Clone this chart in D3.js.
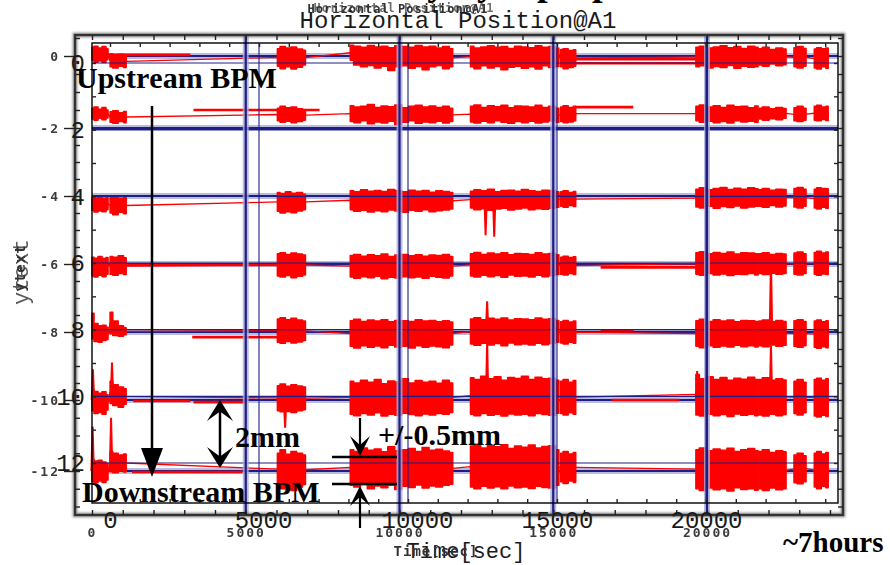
<!DOCTYPE html>
<html>
<head>
<meta charset="utf-8">
<script src="https://cdn.jsdelivr.net/npm/d3@7"></script>
<style>
  body { margin: 0; background: #fff; }
  svg text { font-kerning: none; }
</style>
</head>
<body>
<svg id="chart" width="890" height="565"></svg>
<script>
// ---------- data ----------
// display offset (mm) of each BPM trace, upstream first
const bpmOffsets = [0, -2, -4, -6, -8, -10, -12];
// tick values and labels of the two overlaid axes
const oldTicksY = [0, -2, -4, -6, -8, -10, -12];
const oldTickLabelsY = ["0", "-2", "-4", "-6", "-8", "-10", "-12"];
const newTicksY = [0, 2, 4, 6, 8, 10, 12];
const timeTicks = [0, 5000, 10000, 15000, 20000];

// sample times (sec) of the ten recorded runs, shared by every BPM
const sampleTimes = [
  [0, 130, 260, 390, 520],
  [590, 760, 940, 1110],
  [6030, 6200, 6380, 6560, 6750, 6940],
  [8400, 8620, 8840, 9070, 9290, 9510, 9730, 9960, 10180, 10400, 10620, 10850, 11070, 11290, 11510, 11730],
  [12310, 12530, 12750, 12970, 13190, 13410, 13630, 13850, 14080, 14300, 14520, 14740, 14960, 15180],
  [15240, 15400, 15570, 15730],
  [19640, 19860, 20090, 20310, 20540, 20760, 20990, 21210, 21440, 21660],
  [21690, 21910, 22130, 22350, 22570],
  [22830, 23030, 23220],
  [23490, 23640, 23790, 23940]
];

// upper envelope of the position jitter (mm, relative to the trace offset)
const hiDev = [
  [[.24,.27,.22,.26,.2],[.06,.03,.05,.02],[.2,.26,.22,.25,.19,.16],
   [.3,.27,.24,.29,.25,.27,.23,.28,.26,.24,.29,.25,.27,.22,.26,.2],
   [.27,.22,.25,.28,.24,.26,.21,.27,.25,.23,.28,.24,.26,.22],[.18,.2,.15,.17],
   [.24,.27,.22,.25,.28,.23,.26,.21,.27,.24],[.2,.24,.18,.22,.19],[.23,.26,.21],[.19,.23,.2,.22]],
  [[.55,.58,.52,.57,.5],[.45,.48,.42,.46],[.55,.6,.56,.58,.53,.5],
   [.62,.58,.6,.65,.57,.61,.59,.64,.56,.6,.63,.58,.61,.57,.6,.55],
   [.6,.64,.57,.62,.59,.63,.56,.61,.6,.58,.63,.57,.6,.55],[.58,.62,.57,.6],
   [.6,.64,.58,.62,.57,.63,.59,.6,.56,.61],[.55,.58,.53,.57,.54],[.56,.6,.55],[.6,.63,.58,.6]],
  [[-.04,-.06,-.03,-.07,-.05],[-.05,-.03,-.07,-.04],[.1,.07,.12,.08,.1,.05],
   [.15,.12,.18,.14,.16,.13,.19,.15,.12,.17,.14,.16,.11,.15,.13,.1],
   [.14,.18,.15,.2,.12,.16,.17,.14,.19,.15,.13,.17,.16,.12],[.12,.15,.1,.13],
   [.2,.24,.18,.22,.25,.19,.23,.2,.24,.21],[.18,.22,.17,.2,.19],[.22,.25,.2],[.2,.24,.22,.21]],
  [[.2,.17,.22,.16,.19],[.22,.2,.24,.18],[.3,.33,.28,.32,.29,.26],
   [.25,.28,.23,.27,.24,.29,.22,.26,.28,.24,.27,.23,.26,.25,.28,.22],
   [.3,.34,.28,.32,.29,.33,.27,.31,.3,.28,.33,.29,.31,.27],[.2,.23,.19,.21],
   [.33,.36,.3,.34,.31,.35,.29,.33,.32,.3],[.3,.33,.28,.31,.29],[.32,.35,.3],[.34,.37,.32,.35]],
  [[.55,.25,.18,.2,.14],[.58,.32,.18,.12],[.38,.42,.36,.4,.35,.32],
   [.33,.37,.31,.35,.32,.36,.3,.34,.33,.31,.36,.32,.34,.3,.33,.29],
   [.38,.42,.36,.4,.37,.41,.35,.39,.38,.36,.41,.37,.39,.34],[.3,.34,.29,.32],
   [.33,.37,.31,.36,.32,.35,.3,.34,.33,.31],[.32,.35,.3,.34,.31],[.33,.36,.31],[.32,.35,.3,.33]],
  [[.3,.25,.2,.24,.15],[.55,.45,.38,.33],[.42,.47,.4,.45,.41,.38],
   [.55,.5,.58,.52,.6,.48,.56,.53,.62,.5,.57,.52,.55,.49,.58,.5],
   [.65,.6,.7,.62,.68,.58,.66,.63,.7,.6,.67,.62,.64,.58],[.55,.6,.52,.57],
   [.75,.62,.68,.6,.66,.58,.64,.61,.67,.6],[.6,.65,.58,.62,.59],[.55,.6,.52],[.6,.64,.58,.62]],
  [[.32,.28,.3,.25,.22],[.55,.5,.45,.48],[.5,.6,.47,.55,.5,.45],
   [.6,.55,.65,.58,.62,.54,.68,.57,.6,.63,.55,.66,.58,.61,.56,.52],
   [.7,.75,.65,.72,.68,.74,.63,.7,.67,.73,.65,.69,.71,.6],[.5,.55,.48,.52],
   [.6,.65,.57,.62,.58,.64,.55,.6,.63,.57],[.55,.6,.52,.57,.54],[.45,.5,.43],[.5,.55,.48,.52]]
];

// lower envelope of the position jitter (mm, relative to the trace offset)
const loDev = [
  [[-.12,-.17,-.14,-.18,-.1],[-.3,-.33,-.28,-.32],[-.28,-.35,-.3,-.36,-.31,-.25],
   [-.12,-.25,-.3,-.26,-.33,-.28,-.4,-.3,-.27,-.34,-.29,-.38,-.3,-.26,-.35,-.3],
   [-.3,-.35,-.27,-.33,-.29,-.38,-.31,-.28,-.34,-.3,-.36,-.27,-.32,-.29],[-.3,-.35,-.32,-.28],
   [-.3,-.27,-.33,-.29,-.32,-.26,-.34,-.28,-.31,-.3],[-.25,-.28,-.22,-.27,-.24],[-.3,-.33,-.28],[-.33,-.36,-.3,-.34]],
  [[.25,.22,.27,.23,.28],[.16,.13,.18,.15],[.2,.16,.19,.15,.18,.22],
   [.18,.15,.2,.12,.17,.14,.19,.1,.16,.2,.13,.17,.15,.19,.14,.18],
   [.17,.14,.19,.15,.2,.16,.13,.18,.15,.19,.14,.17,.2,.16],[.18,.15,.17,.2],
   [.2,.16,.19,.15,.18,.14,.2,.17,.19,.16],[.25,.22,.26,.23,.27],[.2,.18,.22],[.22,.2,.24,.21]],
  [[-.42,-.47,-.44,-.46,-.4],[-.5,-.55,-.48,-.52],[-.45,-.5,-.46,-.49,-.44,-.4],
   [-.4,-.45,-.42,-.47,-.43,-.46,-.41,-.44,-.48,-.42,-.45,-.4,-.46,-.43,-.41,-.38],
   [-.35,-.4,-.37,-.42,-.38,-.36,-.41,-.38,-.35,-.4,-.37,-.39,-.36,-.33],[-.3,-.33,-.28,-.31],
   [-.32,-.35,-.3,-.36,-.31,-.34,-.29,-.35,-.32,-.3],[-.3,-.33,-.28,-.32,-.29],[-.32,-.35,-.3],[-.35,-.38,-.33,-.36]],
  [[-.35,-.38,-.33,-.37,-.3],[-.3,-.33,-.28,-.31],[-.35,-.38,-.34,-.4,-.36,-.32],
   [-.38,-.42,-.37,-.4,-.36,-.43,-.39,-.41,-.37,-.4,-.38,-.42,-.36,-.39,-.41,-.35],
   [-.35,-.38,-.33,-.37,-.34,-.39,-.32,-.36,-.35,-.38,-.33,-.37,-.34,-.31],[-.3,-.32,-.28,-.31],
   [-.3,-.33,-.28,-.32,-.29,-.34,-.3,-.31,-.28,-.32],[-.28,-.31,-.27,-.3,-.28],[-.3,-.32,-.28],[-.3,-.33,-.29,-.31]],
  [[-.2,-.28,-.3,-.25,-.22],[-.05,-.1,-.12,-.08],[-.3,-.33,-.28,-.32,-.29,-.25],
   [-.42,-.47,-.4,-.45,-.41,-.46,-.39,-.44,-.42,-.47,-.4,-.45,-.41,-.43,-.46,-.38],
   [-.35,-.39,-.33,-.38,-.34,-.4,-.32,-.37,-.35,-.38,-.33,-.37,-.34,-.3],[-.32,-.35,-.3,-.33],
   [-.42,-.46,-.4,-.45,-.41,-.44,-.39,-.43,-.4,-.44],[-.4,-.43,-.38,-.42,-.39],[-.42,-.45,-.4],[-.45,-.48,-.43,-.46]],
  [[-.3,-.38,-.35,-.4,-.28],[-.1,-.15,-.2,-.12],[-.3,-.33,-.32,-.35,-.3,-.27],
   [-.4,-.44,-.38,-.42,-.36,-.45,-.4,-.43,-.37,-.41,-.44,-.39,-.42,-.38,-.4,-.35],
   [-.4,-.44,-.38,-.43,-.4,-.45,-.39,-.42,-.4,-.44,-.38,-.41,-.43,-.37],[-.38,-.42,-.36,-.4],
   [-.42,-.45,-.4,-.44,-.41,-.46,-.39,-.43,-.4,-.44],[-.42,-.45,-.4,-.44,-.41],[-.38,-.42,-.36],[-.45,-.48,-.43,-.46]],
  [[-.3,-.33,-.28,-.32,-.25],[-.02,-.05,0,-.03],[-.4,-.5,-.42,-.55,-.45,-.38],
   [-.4,-.45,-.38,-.5,-.42,-.47,-.4,-.52,-.43,-.46,-.39,-.48,-.42,-.45,-.4,-.37],
   [-.45,-.5,-.43,-.48,-.44,-.5,-.42,-.47,-.45,-.49,-.43,-.46,-.48,-.4],[-.3,-.35,-.28,-.32],
   [-.5,-.55,-.48,-.53,-.5,-.56,-.47,-.52,-.5,-.54],[-.5,-.55,-.48,-.53,-.5],[-.33,-.36,-.3],[-.45,-.5,-.43,-.47]]
];

// held readings between runs: [bpm, t start, t end, position (mm rel. offset)]
const flats = [
  [0, 0, 3200, .03], [0, 15730, 19640, -.09], [0, 15730, 19640, -.2],
  [1, 3300, 7400, .5], [1, 15730, 17600, .58],
  [3, 1100, 6030, -.03], [3, 16540, 19640, -.1],
  [4, 3260, 6030, -.15], [4, 16540, 17620, .05],
  [5, 1340, 3200, -.03], [5, 3300, 5000, -.06], [5, 16900, 19100, 0],
  [6, 1300, 4900, -.03]
];

// isolated excursions: [bpm, t (sec), peak (mm rel. offset)]
const spikes = [
  [2, 12800, -1.15], [2, 13080, -1.2],
  [4, 12850, .9], [4, 22080, 2.1],
  [5, 30, .9], [5, 650, 1.1], [5, 6280, -.78], [5, 12850, 1.7], [5, 19680, .85], [5, 22080, 1.6],
  [6, 20, 1.25], [6, 620, 1.5]
];

// ---------- scales ----------
const svg = d3.select("#chart");
svg.append("rect").attr("width", 890).attr("height", 565).attr("fill", "#fff");
const defs = svg.append("defs");
defs.append("filter").attr("id", "soft").append("feGaussianBlur").attr("stdDeviation", 0.55);
defs.append("filter").attr("id", "haze").append("feGaussianBlur").attr("stdDeviation", 0.9);

// older frame (grey) and newer frame (black) use slightly different scalings
const xOld = d3.scaleLinear().domain([0, 20000]).range([92, 707]);
const yOld = d3.scaleLinear().domain(oldTicksY).range([56, 128, 196, 264, 332, 400, 471]);
const xNew = d3.scaleLinear().domain([0, 20000]).range([110, 706]);
const yNew = d3.scaleLinear().domain([0, 12]).range([63, 463]);

const outer = {l: 75, r: 843, t: 35, b: 515};
const inner = {l: 92, r: 838, t: 43, b: 503};
const RED = "#ff0000", NAVY = "#1e1e84", HALO = "#a9acd8";

// ---------- thick reference lines (under the data) ----------
const gridUnder = svg.append("g");
oldTicksY.forEach(v => {
  gridUnder.append("line").attr("x1", inner.l).attr("x2", inner.r).attr("y1", yOld(v)).attr("y2", yOld(v))
    .attr("stroke", HALO).attr("stroke-width", 6).attr("opacity", 0.8);
  gridUnder.append("line").attr("x1", inner.l).attr("x2", inner.r).attr("y1", yOld(v)).attr("y2", yOld(v))
    .attr("stroke", NAVY).attr("stroke-width", 2.2);
});

// ---------- BPM traces ----------
const red = svg.append("g").attr("filter", "url(#soft)");
const line = d3.line().x(d => xOld(d[0])).y(d => yOld(d[1]));
const band = d3.area().curve(d3.curveStep).x(d => xOld(d.t)).y0(d => yOld(d.lo)).y1(d => yOld(d.hi));

flats.forEach(([k, t0, t1, v]) => {
  red.append("path").datum([[t0, bpmOffsets[k] + v], [t1, bpmOffsets[k] + v]])
    .attr("d", line).attr("fill", "none").attr("stroke", RED).attr("stroke-width", 2.6);
});

bpmOffsets.forEach((off, k) => {
  const runs = sampleTimes.map((ts, s) => ts.map((t, i) => ({t, hi: off + hiDev[k][s][i], lo: off + loDev[k][s][i]})));
  const links = [];
  runs.forEach(run => {
    const a = run[0], b = run[run.length - 1];
    links.push([a.t, (a.hi + a.lo) / 2], [b.t, (b.hi + b.lo) / 2]);
  });
  red.append("path").datum(links).attr("d", line)
    .attr("fill", "none").attr("stroke", RED).attr("stroke-width", 1.3);
  runs.forEach(run => {
    red.append("path").datum(run).attr("d", band)
      .attr("fill", RED).attr("stroke", RED).attr("stroke-width", 1.6).attr("stroke-linejoin", "round");
  });
});

spikes.forEach(([k, t, v]) => {
  const off = bpmOffsets[k];
  red.append("path").datum([[t - 40, off], [t, off + v], [t + 40, off]])
    .attr("d", line).attr("fill", "none").attr("stroke", RED).attr("stroke-width", 2);
});

// ---------- grid lines drawn over the data ----------
const gridOver = svg.append("g");
newTicksY.forEach(v => {
  gridOver.append("line").attr("x1", inner.l).attr("x2", inner.r).attr("y1", yNew(v)).attr("y2", yNew(v))
    .attr("stroke", NAVY).attr("stroke-width", 1.1);
});
timeTicks.slice(1).forEach(t => {
  gridOver.append("line").attr("x1", xOld(t)).attr("x2", xOld(t)).attr("y1", outer.t).attr("y2", outer.b)
    .attr("stroke", HALO).attr("stroke-width", 6).attr("opacity", 0.8);
  gridOver.append("line").attr("x1", xOld(t)).attr("x2", xOld(t)).attr("y1", outer.t).attr("y2", outer.b)
    .attr("stroke", NAVY).attr("stroke-width", 2.2);
  gridOver.append("line").attr("x1", xNew(t)).attr("x2", xNew(t)).attr("y1", inner.t).attr("y2", inner.b)
    .attr("stroke", NAVY).attr("stroke-width", 1.1);
});

// ---------- frames and ticks ----------
const frames = svg.append("g");
frames.append("rect").attr("x", outer.l).attr("y", outer.t).attr("width", outer.r - outer.l).attr("height", outer.b - outer.t)
  .attr("fill", "none").attr("stroke", "#555").attr("stroke-width", 5).attr("opacity", 0.55).attr("filter", "url(#haze)");
frames.append("rect").attr("x", outer.l).attr("y", outer.t).attr("width", outer.r - outer.l).attr("height", outer.b - outer.t)
  .attr("fill", "none").attr("stroke", "#333").attr("stroke-width", 2.4);
frames.append("rect").attr("x", inner.l).attr("y", inner.t).attr("width", inner.r - inner.l).attr("height", inner.b - inner.t)
  .attr("fill", "none").attr("stroke", "#000").attr("stroke-width", 1.4);

function tickAxis(axis, tx, ty) {
  const g = frames.append("g").attr("transform", `translate(${tx},${ty})`).call(axis);
  g.select(".domain").remove();
  g.selectAll("line").attr("stroke", "#222").attr("stroke-width", 1.4);
  return g;
}
const minorY = d3.range(0.5, -13.01, -0.5);
const minorT = d3.range(0, 24001, 1000);
const minorYNew = d3.range(0, 13, 1);
tickAxis(d3.axisRight(yOld).tickValues(minorY).tickSize(5).tickFormat(""), outer.l, 0);
tickAxis(d3.axisLeft(yOld).tickValues(minorY).tickSize(5).tickFormat(""), outer.r, 0);
tickAxis(d3.axisTop(xOld).tickValues(minorT).tickSize(5).tickFormat(""), 0, outer.b);
tickAxis(d3.axisBottom(xOld).tickValues(minorT).tickSize(5).tickFormat(""), 0, outer.t);
tickAxis(d3.axisTop(xNew).tickValues(minorT).tickSize(4).tickFormat(""), 0, inner.b);
tickAxis(d3.axisBottom(xNew).tickValues(minorT).tickSize(4).tickFormat(""), 0, inner.t);
tickAxis(d3.axisRight(yNew).tickValues(minorYNew).tickSize(4).tickFormat(""), inner.l, 0);
tickAxis(d3.axisLeft(yNew).tickValues(minorYNew).tickSize(4).tickFormat(""), inner.r, 0);

// labelled axes of the older frame (small bold)
const oldFont = g => g.selectAll("text")
  .attr("font-family", "'DejaVu Sans Mono', monospace").attr("font-weight", "bold")
  .attr("font-size", 13).attr("letter-spacing", 2).attr("fill", "#3a3a3a").attr("filter", "url(#soft)");
const yOldAxis = tickAxis(d3.axisLeft(yOld).tickValues(oldTicksY).tickSize(11).tickPadding(4)
  .tickFormat((d, i) => oldTickLabelsY[i]), outer.l, 0);
oldFont(yOldAxis);
const xOldAxis = tickAxis(d3.axisBottom(xOld).tickValues(timeTicks).tickSize(0).tickPadding(13), 0, outer.b);
oldFont(xOldAxis);
xOldAxis.selectAll("text").text(d => d3.format("d")(d));

// labelled axes of the newer frame (large light mono)
const newFont = g => g.selectAll("text")
  .attr("font-family", "'Liberation Mono', 'Courier New', monospace")
  .attr("font-size", 24).attr("fill", "#1a1a1a");
const yNewAxis = tickAxis(d3.axisLeft(yNew).tickValues(newTicksY).tickSize(0).tickPadding(7), inner.l, 0);
newFont(yNewAxis);
const xNewAxis = tickAxis(d3.axisBottom(xNew).tickValues(timeTicks).tickSize(0).tickPadding(8), 0, inner.b);
newFont(xNewAxis);
xNewAxis.selectAll("text").text(d => d3.format("d")(d)).attr("dx", (d, i) => [0, 4, 9, 0, 0][i]);

// ---------- titles ----------
const titles = svg.append("g");
// slide heading, mostly above the page edge
titles.append("text").attr("x", 309).attr("y", -5)
  .attr("font-family", "'Liberation Serif', 'Times New Roman', serif").attr("font-weight", "bold")
  .attr("font-size", 38).attr("fill", "#000").text("Stability by top-up");
titles.append("text").attr("x", 398).attr("y", 13).attr("text-anchor", "middle")
  .attr("font-family", "'DejaVu Sans Mono', monospace").attr("font-weight", "bold").attr("font-size", 12)
  .attr("letter-spacing", 1).attr("fill", "#333").attr("filter", "url(#soft)").text("Horizontal Position@A1");
titles.append("text").attr("x", 404).attr("y", 12).attr("text-anchor", "middle")
  .attr("font-family", "'DejaVu Sans Mono', monospace").attr("font-weight", "bold").attr("font-size", 12)
  .attr("letter-spacing", 1).attr("fill", "#333").attr("opacity", 0.7).attr("filter", "url(#soft)").text("Horizontal Position@A1");
titles.append("text").attr("x", 458).attr("y", 28).attr("text-anchor", "middle")
  .attr("font-family", "'Liberation Mono', 'Courier New', monospace").attr("font-size", 24)
  .attr("fill", "#1a1a1a").text("Horizontal Position@A1");

titles.append("text").attr("x", 466).attr("y", 558).attr("text-anchor", "middle")
  .attr("font-family", "'Liberation Mono', 'Courier New', monospace").attr("font-size", 22)
  .attr("fill", "#1a1a1a").text("Time[sec]");
titles.append("text").attr("x", 436).attr("y", 556).attr("text-anchor", "middle")
  .attr("font-family", "'DejaVu Sans Mono', monospace").attr("font-weight", "bold").attr("font-size", 14)
  .attr("letter-spacing", 1).attr("fill", "#333").attr("filter", "url(#soft)").text("Time[sec]");

titles.append("text").attr("transform", "translate(28,272) rotate(-90)").attr("text-anchor", "middle")
  .attr("font-family", "'Liberation Mono', 'Courier New', monospace").attr("font-size", 22)
  .attr("fill", "#333").attr("opacity", 0.8).attr("filter", "url(#soft)").text("ytext");
titles.append("text").attr("transform", "translate(25,268) rotate(-90)").attr("text-anchor", "middle")
  .attr("font-family", "'DejaVu Sans Mono', monospace").attr("font-weight", "bold").attr("font-size", 14)
  .attr("letter-spacing", 1).attr("fill", "#333").attr("filter", "url(#soft)").text("ytext");

// ---------- annotations ----------
const note = svg.append("g");
const serif = sel => sel.attr("font-family", "'Liberation Serif', 'Times New Roman', serif")
  .attr("font-weight", "bold").attr("font-size", 30).attr("fill", "#000");
note.append("text").attr("x", 76).attr("y", 88).text("Upstream BPM").call(serif);
note.append("text").attr("x", 82).attr("y", 502).text("Downstream BPM").call(serif);
note.append("text").attr("x", 235).attr("y", 447).text("2mm").call(serif);
note.append("text").attr("x", 378).attr("y", 445).text("+/-0.5mm").call(serif);
note.append("text").attr("x", 783).attr("y", 552).text("~7hours").call(serif).attr("font-size", 29);

// upstream -> downstream arrow
note.append("line").attr("x1", 152).attr("x2", 152).attr("y1", 106).attr("y2", 452)
  .attr("stroke", "#000").attr("stroke-width", 2.5);
note.append("path").attr("d", "M141,448 L163,448 L152,477 Z").attr("fill", "#000");

// chevron head: tip at (x,y), pointing up (dir=-1) or down (dir=1)
function chevron(x, y, dir, w, h) {
  return `M${x},${y} L${x + w},${y - dir * h} L${x},${y - dir * h * 0.55} L${x - w},${y - dir * h} Z`;
}
// 2 mm double arrow
note.append("line").attr("x1", 220).attr("x2", 220).attr("y1", 404).attr("y2", 464)
  .attr("stroke", "#000").attr("stroke-width", 2.5);
note.append("path").attr("d", chevron(220, 400, -1, 13, 21)).attr("fill", "#000");
note.append("path").attr("d", chevron(220, 468, 1, 13, 21)).attr("fill", "#000");

// +/-0.5 mm band markers
note.append("line").attr("x1", 360).attr("x2", 360).attr("y1", 418).attr("y2", 452)
  .attr("stroke", "#000").attr("stroke-width", 2.2);
note.append("path").attr("d", chevron(360, 456, 1, 10, 20)).attr("fill", "#000");
note.append("line").attr("x1", 360).attr("x2", 360).attr("y1", 490).attr("y2", 528)
  .attr("stroke", "#000").attr("stroke-width", 2.2);
note.append("path").attr("d", chevron(360, 486, -1, 10, 20)).attr("fill", "#000");
note.append("line").attr("x1", 332).attr("x2", 397).attr("y1", 457).attr("y2", 457)
  .attr("stroke", "#000").attr("stroke-width", 2.4);
note.append("line").attr("x1", 332).attr("x2", 397).attr("y1", 484).attr("y2", 484)
  .attr("stroke", "#000").attr("stroke-width", 2.4);
</script>
</body>
</html>
